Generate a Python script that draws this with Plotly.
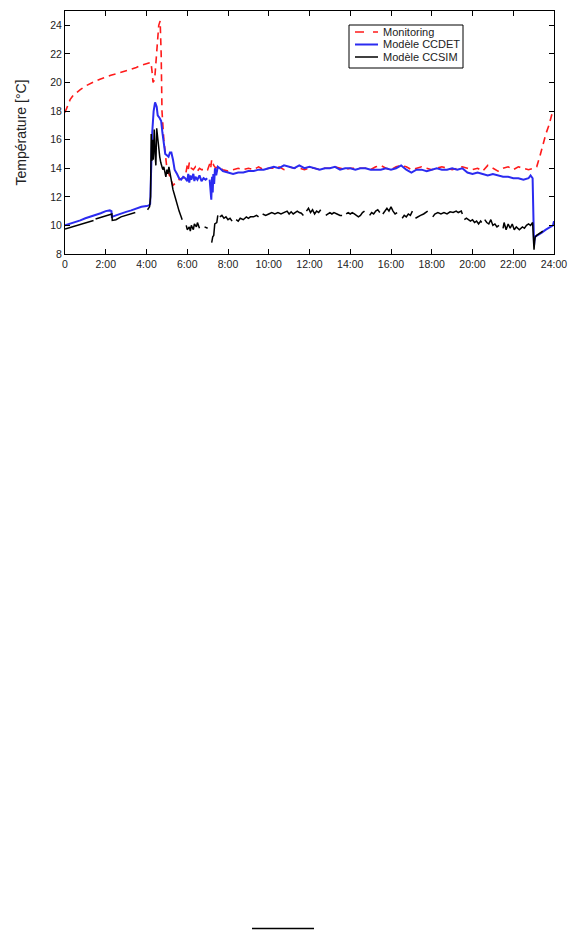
import plotly.graph_objects as go

# ---------------- data ----------------
tick_vals = [0, 2, 4, 6, 8, 10, 12, 14, 16, 18, 20, 22, 24]
tick_text = ["0", "2:00", "4:00", "6:00", "8:00", "10:00", "12:00", "14:00",
             "16:00", "18:00", "20:00", "22:00", "24:00"]
y_ticks = [8, 10, 12, 14, 16, 18, 20, 22, 24]
series_names = ["Monitoring", "Modèle CCDET", "Modèle CCSIM"]

t_mon = [0, 0.1, 0.25, 0.4, 0.55, 0.75, 1.0, 1.25, 1.5, 1.75, 2.0, 2.25, 2.5, 2.75,
         3.0, 3.25, 3.5, 3.75, 4.0, 4.15, 4.22, 4.27, 4.32, 4.4, 4.5, 4.6, 4.67, 4.72,
         4.76, 4.85, 5.0, 5.15, 5.3, 5.45, 5.6, 5.75, 5.9, 6.0, 6.05, 6.1, 6.2, 6.3,
         6.4, 6.5, 6.6, 6.7, 6.8, 6.9, 7.0, 7.1, 7.15, 7.2, 7.3, 7.4,
         7.5, 7.75, 8.0, 8.25, 8.5, 8.75, 9.0, 9.25, 9.5, 9.75, 10.0, 10.25, 10.5,
         10.75, 11.0, 11.25, 11.5, 11.75, 12.0, 12.25, 12.5, 12.75, 13.0, 13.25,
         13.5, 13.75, 14.0, 14.25, 14.5, 14.75, 15.0, 15.25, 15.5, 15.75, 16.0,
         16.25, 16.5, 16.75, 17.0, 17.25, 17.5, 17.75, 18.0, 18.25, 18.5, 18.75,
         19.0, 19.25, 19.5, 19.75, 20.0, 20.25, 20.5, 20.75, 21.0, 21.25, 21.5,
         21.75, 22.0, 22.25, 22.5, 22.75, 23.0, 23.15, 23.3, 23.45, 23.6, 23.75,
         23.9, 24.0]
monitoring = [17.9, 18.3, 18.8, 19.1, 19.3, 19.5, 19.75, 19.95, 20.1, 20.25, 20.4, 20.5,
              20.6, 20.7, 20.85, 20.95, 21.05, 21.2, 21.3, 21.4, 21.4, 20.8, 20.0, 20.2,
              22.5, 24.0, 24.3, 22.0, 18.0, 16.0, 14.0, 13.4, 12.8, 13.0, 13.2, 13.3,
              13.4, 14.2, 13.9, 14.4, 14.0, 13.9, 14.1, 13.8, 14.0, 13.9, 13.9, 14.0,
              13.9, 14.3, 14.0, 14.6, 14.2, 14.0,
              14.1, 13.9, 13.8, 13.9, 14.0, 13.9, 14.0, 13.9, 14.1, 13.9, 14.0, 14.0,
              14.1, 13.9, 14.1, 14.0, 14.0, 13.9, 14.0, 14.0, 13.9, 14.0, 14.0, 14.1,
              14.0, 13.9, 14.0, 14.0, 14.0, 14.0, 13.9, 14.1, 14.2, 14.0, 13.9, 14.1,
              14.2, 14.1, 13.9, 14.0, 14.1, 14.0, 13.9, 14.0, 14.1, 14.0, 13.9, 14.0,
              14.1, 14.0, 13.9, 14.0, 13.8, 14.2, 14.0, 13.8, 14.0, 14.1, 13.9, 14.1,
              14.0, 13.9, 14.0, 14.1, 14.8, 15.6, 16.4, 17.0, 17.8, 18.1]

t_ccdet = [0, 0.25, 0.5, 0.75, 1.0, 1.25, 1.5, 1.75, 2.0, 2.2, 2.28, 2.3, 2.5, 2.75,
           3.0, 3.25, 3.5, 3.75, 4.0, 4.12, 4.18, 4.22, 4.28, 4.35, 4.42, 4.5, 4.55,
           4.65, 4.72, 4.78, 4.85, 4.92, 5.0, 5.08, 5.15, 5.22, 5.3, 5.38, 5.5, 5.6,
           5.7, 5.8, 5.9, 6.0, 6.05, 6.1, 6.15, 6.2, 6.3, 6.35, 6.4, 6.5, 6.6, 6.7,
           6.8, 6.9, 6.98, 7.04, 7.1, 7.15, 7.18, 7.2, 7.22, 7.25, 7.28, 7.32, 7.36,
           7.42, 7.5, 7.6, 7.75, 8.0, 8.25, 8.5, 8.75, 9.0, 9.25, 9.5, 9.75, 10.0,
           10.25, 10.5, 10.75, 11.0, 11.25, 11.5, 11.75, 12.0, 12.25, 12.5, 12.75,
           13.0, 13.25, 13.5, 13.75, 14.0, 14.25, 14.5, 14.75, 15.0, 15.25, 15.5,
           15.75, 16.0, 16.25, 16.5, 16.75, 17.0, 17.25, 17.5, 17.75, 18.0, 18.25,
           18.5, 18.75, 19.0, 19.25, 19.5, 19.75, 20.0, 20.25, 20.5, 20.75, 21.0,
           21.25, 21.5, 21.75, 22.0, 22.25, 22.5, 22.75, 22.85, 22.95, 23.0, 23.02,
           23.06, 23.2, 23.4, 23.6, 23.8, 23.95, 24.0]
ccdet = [10.0, 10.1, 10.2, 10.35, 10.5, 10.6, 10.75, 10.85, 11.0, 11.05, 11.0, 10.6,
         10.7, 10.85, 10.95, 11.05, 11.2, 11.3, 11.35, 11.4, 11.5, 13.5, 16.5, 18.0,
         18.6, 18.3, 17.7, 17.5, 17.3, 16.5, 15.5, 15.0, 14.9, 14.8, 15.1, 15.1,
         14.6, 13.9, 13.6, 13.3, 13.2, 13.4, 13.3, 13.1, 13.6, 13.0, 13.5, 13.2,
         13.6, 13.1, 13.4, 13.2, 13.5, 13.1, 13.3, 13.2, 13.3, None, 13.2, 12.5,
         11.8, 12.6, 13.4, 12.3, 13.6, 12.9, 14.0, 13.5, 14.1, 14.0, 13.8, 13.7,
         13.6, 13.7, 13.7, 13.8, 13.8, 13.9, 13.9, 14.0, 14.1, 14.0, 14.2, 14.1,
         14.0, 14.2, 14.0, 14.1, 14.0, 13.9, 14.0, 14.0, 14.1, 13.9, 14.0, 14.0,
         13.9, 14.0, 14.0, 13.9, 13.9, 13.9, 14.0, 13.9, 14.0, 14.2, 13.9, 13.7,
         13.9, 13.9, 13.8, 13.9, 14.0, 13.9, 13.9, 14.0, 13.9, 14.0, 13.7, 13.6,
         13.7, 13.6, 13.5, 13.6, 13.5, 13.4, 13.4, 13.3, 13.3, 13.2, 13.3, 13.5,
         13.3, 9.0, 8.6, 9.2, 9.3, 9.5, 9.7, 9.9, 10.0, 10.3]

t_ccsim = [0, 0.25, 0.5, 0.75, 1.0, 1.25, 1.4, 1.45, 1.5, 1.75, 2.0, 2.3, 2.32, 2.5,
           2.75, 3.0, 3.25, 3.45, 3.7, 4.05, 4.15, 4.2, 4.23, 4.26, 4.3, 4.33, 4.38,
           4.42, 4.46, 4.5, 4.55, 4.6, 4.65, 4.7, 4.75, 4.8, 4.85, 4.9, 4.95, 5.0,
           5.05, 5.1, 5.15, 5.2, 5.3, 5.4, 5.5, 5.6, 5.7, 5.75, 5.85, 5.95, 6.0, 6.1,
           6.15, 6.2, 6.3, 6.35, 6.45, 6.5, 6.6, 6.7, 6.85, 7.0, 7.1, 7.2, 7.25, 7.3,
           7.35, 7.45, 7.5, 7.55, 7.6, 7.7, 7.8, 7.9, 8.0, 8.1, 8.2, 8.3, 8.4, 8.5,
           8.6, 8.75, 8.9, 9.0, 9.1, 9.25, 9.4, 9.5, 9.6, 9.7, 9.85, 10.0, 10.15,
           10.3, 10.45, 10.6, 10.75, 10.9, 11.0, 11.1, 11.2, 11.3, 11.4, 11.5, 11.6,
           11.7, 11.78, 11.85, 11.95, 12.05, 12.15, 12.25, 12.35, 12.45, 12.55, 12.7,
           12.8, 12.9, 13.0, 13.1, 13.2, 13.35, 13.5, 13.6, 13.7, 13.8, 13.9, 14.0,
           14.1, 14.2, 14.3, 14.4, 14.5, 14.6, 14.7, 14.85, 14.95, 15.05, 15.15,
           15.25, 15.35, 15.45, 15.52, 15.6, 15.7, 15.8, 15.9, 16.0, 16.1, 16.2,
           16.3, 16.45, 16.55, 16.65, 16.75, 16.85, 16.95, 17.05, 17.12, 17.2, 17.3,
           17.45, 17.6, 17.7, 17.8, 17.95, 18.05, 18.15, 18.3, 18.45, 18.6, 18.75,
           18.9, 19.05, 19.2, 19.3, 19.45, 19.5, 19.55, 19.6, 19.7, 19.8, 19.9, 20.0,
           20.1, 20.2, 20.3, 20.4, 20.45, 20.52, 20.6, 20.7, 20.8, 20.9, 21.0, 21.1,
           21.2, 21.3, 21.4, 21.5, 21.55, 21.65, 21.75, 21.85, 21.95, 22.05, 22.15,
           22.3, 22.45, 22.55, 22.65, 22.75, 22.85, 22.95, 23.0, 23.02, 23.05, 23.08,
           23.15, 23.25, 23.35, 23.45]
ccsim = [9.75, 9.85, 10.0, 10.1, 10.2, 10.3, 10.35, None, 10.45, 10.55, 10.7, 10.8,
         10.35, 10.4, 10.6, 10.7, 10.8, 10.9, None, 11.1, 11.3, 12.0, 16.4, 14.5, 16.0,
         14.6, 16.7, 15.0, 14.2, 16.8, 16.0, 15.4, 14.8, 14.4, 14.2, 13.9, 14.1, 13.6,
         13.4, 13.9, 13.6, 14.1, 13.7, 13.2, 12.5, 12.0, 11.4, 11.0, 10.6, 10.4, None,
         10.0, 9.7, 9.9, 9.6, 10.0, 9.7, 10.1, 9.9, 10.2, 9.8, None, 9.9, 9.8, None,
         8.8, 9.2, 9.3, 10.1, 10.2, 10.7, None, 10.6, 10.7, 10.5, 10.6, 10.4, 10.5,
         10.3, None, 10.4, 10.3, 10.5, 10.4, 10.6, 10.5, 10.6, 10.6, 10.7, 10.6,
         None, 10.8, 10.7, 10.8, 10.9, 10.8, 10.9, 10.8, 10.9, 11.0, 10.8, 10.95,
         10.8, 10.9, 11.0, 10.9, 10.85, 10.7, None, 11.0, 11.2, 10.9, 11.1, 10.8,
         11.0, 10.9, 11.1, None, 10.7, 10.8, 10.9, 10.8, 10.9, 10.8, 10.7, 10.7,
         None, 10.8, 10.9, 10.8, 10.9, 10.8, 10.7, 10.6, 10.7, 10.9, 11.0, None,
         10.7, 10.9, 10.8, 11.0, 11.1, 10.9, None, 10.8, 11.0, 11.2, 11.0, 11.3,
         11.0, 10.8, 10.9, None, 10.5, 10.7, 10.6, 10.8, 10.7, 11.0, None, 10.5,
         10.6, 10.7, 10.8, 10.9, 11.0, None, 10.6, 10.8, 10.9, 10.8, 10.9, 10.8,
         10.95, 10.9, 11.0, 10.9, 11.0, 10.8, None, 10.4, 10.5, 10.4, 10.3, 10.4,
         10.2, 10.3, 10.1, 10.3, 10.2, None, 10.4, 10.2, 10.1, 10.4, 10.0, 10.1,
         9.9, 10.0, None, 9.8, 10.2, 9.7, 10.1, 9.8, 10.1, 9.7, 9.9, 9.7, 9.9, 9.8,
         10.0, 10.1, 10.0, 10.2, 9.2, 8.3, 8.9, 9.2, 9.3, 9.4, 9.5, 9.6]

# ---------------- layout helpers (pixel -> paper) ----------------
W, H = 572, 922
ML, MR, MT, MB = 57, 26, 3, 676
PW, PH = W - ML - MR, H - MT - MB


def px(x):
    return (x - ML) / PW


def py(y):
    return (MT + PH - y) / PH


FONT = "Liberation Sans, Arial, sans-serif"
colors = ["#ff1a1a", "#2b2bf0", "#000000"]
dashes = ["7px,5px", "solid", "solid"]
widths = [1.6, 2.0, 1.5]

fig = go.Figure()
for name, xs, ys, c, d, w in zip(series_names, [t_mon, t_ccdet, t_ccsim],
                                 [monitoring, ccdet, ccsim], colors, dashes, widths):
    fig.add_trace(go.Scatter(x=xs, y=ys, mode="lines", name=name, showlegend=False,
                             line=dict(color=c, width=w, dash=d)))

axis_common = dict(showline=True, linecolor="black", linewidth=1, mirror="ticks",
                   ticks="inside", ticklen=5, tickcolor="black", showgrid=False,
                   zeroline=False, tickfont=dict(family=FONT, size=10.5, color="#222"))
fig.update_xaxes(range=[0, 24], tickvals=tick_vals, ticktext=tick_text, **axis_common)
fig.update_yaxes(range=[8, 25], tickvals=y_ticks,
                 title=dict(text="Température [°C]", standoff=20,
                            font=dict(family=FONT, size=14, color="#222")),
                 **axis_common)

# manual legend box (MATLAB-like compact legend)
shapes = [dict(type="rect", xref="paper", yref="paper",
               x0=px(341), x1=px(455), y0=py(17), y1=py(60),
               line=dict(color="black", width=1), fillcolor="white", layer="above")]
annotations = []
rows = [24, 36.5, 49]
for name, c, d, w, ry in zip(series_names, colors, dashes, widths, rows):
    shapes.append(dict(type="line", xref="paper", yref="paper",
                       x0=px(347), x1=px(370), y0=py(ry), y1=py(ry), layer="above",
                       line=dict(color=c, width=w, dash="dash" if d != "solid" else "solid")))
    annotations.append(dict(xref="paper", yref="paper", x=px(373), y=py(ry),
                            xanchor="left", yanchor="middle", text=name, showarrow=False,
                            font=dict(family=FONT, size=11, color="#222")))

# short rule at the bottom of the page
shapes.append(dict(type="line", xref="paper", yref="paper",
                   x0=px(244), x1=px(306), y0=py(920.5), y1=py(920.5),
                   line=dict(color="black", width=1.5)))

fig.update_layout(
    width=W, height=H,
    margin=dict(l=ML, r=MR, t=MT, b=MB),
    paper_bgcolor="white", plot_bgcolor="white",
    showlegend=False,
    shapes=shapes, annotations=annotations,
)

fig.write_html("out.html")
